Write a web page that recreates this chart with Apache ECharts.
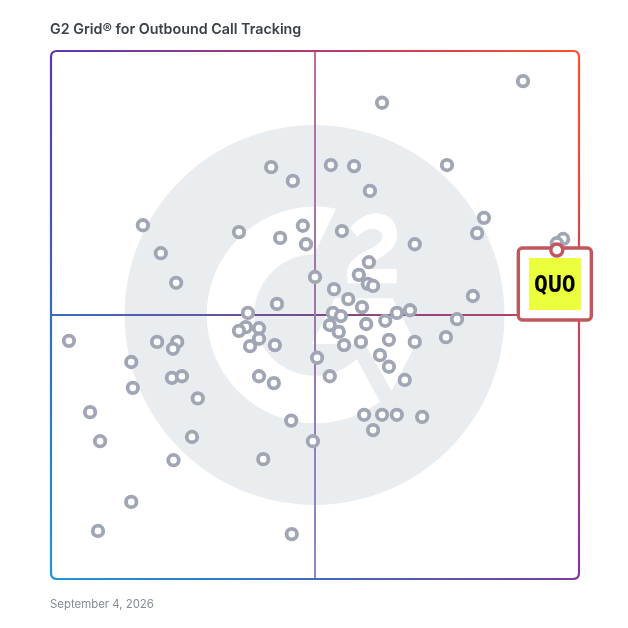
<!DOCTYPE html>
<html>
<head>
<meta charset="utf-8">
<style>html,body{margin:0;padding:0;background:#fff}#c{width:628px;height:628px}</style>
<script src="https://cdn.jsdelivr.net/npm/echarts@6/dist/echarts.min.js"></script>
</head>
<body>
<div id="c"></div>
<script>
const titleText = "G2 Grid® for Outbound Call Tracking";
const dateText = "September 4, 2026";
const highlightName = "QUO";
// Market presence (x) and satisfaction (y), 0-100
const productX = [89.4,62.7,41.7,53.0,57.4,75.0,45.8,60.4,17.4,35.6,47.7,43.4,55.1,48.3,20.8,82.0,80.7,68.9,97.0,95.8,60.2,50.0,58.3,60.0,61.0,23.7,53.6,56.3,42.8,79.9,58.9,37.3,53.4,54.9,68.0,65.5,76.9,63.3,59.7,36.9,35.6,39.4,52.8,54.5,3.4,20.1,23.9,23.1,39.4,37.7,42.4,55.5,58.7,64.0,68.9,74.8,50.4,62.3,15.2,64.0,22.9,24.8,39.4,42.2,52.8,67.0,15.5,27.8,7.4,45.5,59.3,62.7,65.5,70.3,61.0,9.3,26.7,49.6,23.2,40.2,15.2,8.9,45.6];
const productY = [94.3,90.2,78.0,78.4,78.2,78.4,75.4,73.5,67.0,65.7,66.9,64.6,65.9,63.4,61.7,68.4,65.5,63.4,64.4,63.6,60.0,57.2,57.6,55.9,55.5,56.1,54.9,53.0,52.1,53.6,51.5,50.4,50.4,49.8,50.9,50.4,49.2,48.9,48.3,47.7,47.0,47.5,48.1,46.8,45.1,44.9,44.9,43.6,45.5,44.1,44.3,44.3,44.9,45.3,44.9,45.8,41.9,42.4,41.1,40.2,38.1,38.4,38.4,37.1,38.4,37.7,36.2,34.2,31.6,30.0,31.1,31.1,31.1,30.7,28.2,26.1,26.9,26.1,22.5,22.7,14.6,9.1,8.5];
const highlightX = [95.8];
const highlightY = [62.3];

const ringColor = "#a0a6b4";
const accent = "#c1565c";
const TL = "#5a36b4", TR = "#ff4f2a", BR = "#7e3a9e", BL = "#1e97d4";

// watermark logo, drawn in a 1170-unit box
echarts.graphic.registerShape("logoC", echarts.graphic.extendPath(
  "M648 266A325 325 0 1 0 780 845L710 717A182 182 0 1 1 582 403Z", {}));
echarts.graphic.registerShape("logoArm", echarts.graphic.extendPath(
  "M645 535L818 535L888 672L815 812L735 672L575 672Z", {}));
echarts.graphic.registerShape("logoTwo", echarts.graphic.extendPath(
  "M682 490L682 450C690 410 740 395 770 375C785 365 790 355 785 340C775 318 735 322 712 350L690 325C715 292 750 280 765 280C810 280 832 310 832 345C832 385 790 410 750 430L745 447L830 447L830 490Z", {}));
const r = 6;
echarts.graphic.registerShape("sideTop", echarts.graphic.extendPath(`M51 ${51+r}Q51 51 ${51+r} 51L${579-r} 51Q579 51 579 ${51+r}`, {}));
echarts.graphic.registerShape("sideRight", echarts.graphic.extendPath(`M579 ${51+r}L579 ${579-r}Q579 579 ${579-r} 579`, {}));
echarts.graphic.registerShape("sideBottom", echarts.graphic.extendPath(`M${579-r} 579L${51+r} 579Q51 579 51 ${579-r}`, {}));
echarts.graphic.registerShape("sideLeft", echarts.graphic.extendPath(`M51 ${579-r}L51 ${51+r}`, {}));

const grad = (x1,y1,x2,y2,stops) => new echarts.graphic.LinearGradient(x1,y1,x2,y2,
  stops.map((c,i)=>({offset:i/(stops.length-1),color:c})), true);

const chart = echarts.init(document.getElementById("c"), null, {renderer:"canvas"});
chart.setOption({
  animation:false,
  backgroundColor:"#fff",
  title:{text:titleText,left:50,top:21,padding:0,textStyle:{fontFamily:"Inter",fontSize:14.3,fontWeight:600,color:"#3b404a",lineHeight:17}},
  grid:{left:51,top:51,width:528,height:528,containLabel:false},
  xAxis:{type:"value",min:0,max:100,show:false},
  yAxis:{type:"value",min:0,max:100,show:false},
  series:[
    {type:"scatter",z:3,symbol:"circle",symbolSize:10.5,silent:true,
     itemStyle:{color:"#fff",borderColor:ringColor,borderWidth:3.8,opacity:1},
     data:productX.map((x,i)=>[x,productY[i]])},
    {type:"scatter",z:30,name:highlightName,symbol:"circle",symbolSize:12,silent:true,
     itemStyle:{color:"#fff",borderColor:accent,borderWidth:3.4,opacity:1},
     data:highlightX.map((x,i)=>[x,highlightY[i]])}
  ]
});

const px = chart.convertToPixel({gridIndex:0},[highlightX[0],highlightY[0]]);
const mid = chart.convertToPixel({gridIndex:0},[50,50]);
const lo = chart.convertToPixel({gridIndex:0},[0,0]);
const hi = chart.convertToPixel({gridIndex:0},[100,100]);
const logo = (t)=>({type:t,x:120,y:120,scaleX:1/3,scaleY:1/3,z:-8,silent:true,style:{fill:"#fff"}});
const side = (t,c)=>({type:t,z:1,silent:true,style:{fill:"none",stroke:c,lineWidth:2.2}});
chart.setOption({graphic:[
  {type:"circle",z:-10,silent:true,shape:{cx:mid[0]-0.5,cy:mid[1],r:190},style:{fill:"#eaedf0"}},
  logo("logoC"),logo("logoArm"),logo("logoTwo"),
  {type:"line",z:0,silent:true,shape:{x1:lo[0],y1:mid[1],x2:hi[0],y2:mid[1]},
    style:{lineWidth:2,stroke:grad(lo[0],0,hi[0],0,["#3a6ac0","#7b4a8c","#c4405a"])}},
  {type:"line",z:0,silent:true,shape:{x1:mid[0],y1:hi[1],x2:mid[0],y2:lo[1]},
    style:{lineWidth:2,stroke:grad(0,hi[1],0,lo[1],["#bb6f9c","#9a78ae","#8a88c8"])}},
  side("sideTop",grad(51,0,579,0,[TL,"#b53a6c",TR])),
  side("sideRight",grad(0,51,0,579,[TR,"#c8455a",BR])),
  side("sideBottom",grad(579,0,51,0,[BR,"#3f6cbd",BL])),
  side("sideLeft",grad(0,579,0,51,[BL,"#3a68c0",TL])),
  {type:"rect",z:20,silent:true,shape:{x:px[0]-38.5,y:px[1]-2,width:73,height:72,r:4},
    style:{fill:"#fff",stroke:accent,lineWidth:3.4}},
  {type:"rect",z:21,silent:true,shape:{x:px[0]-28,y:px[1]+8,width:52,height:52},style:{fill:"#ebff3d"}},
  {type:"text",z:22,silent:true,x:px[0]-2,y:px[1]+35.5,
    style:{text:highlightName,fontFamily:"DejaVu Sans Mono",fontWeight:700,fontSize:23,fill:"#000",align:"center",verticalAlign:"middle"}},
  {type:"text",z:5,silent:true,x:50,y:604.5,
    style:{text:dateText,fontFamily:"Inter",fontSize:11.4,fill:"#868b94",verticalAlign:"middle"}}
]});
</script>
</body>
</html>
